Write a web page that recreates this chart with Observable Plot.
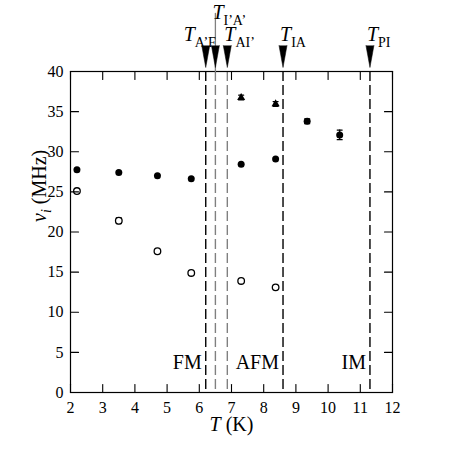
<!DOCTYPE html>
<html><head><meta charset="utf-8">
<script src="https://cdn.jsdelivr.net/npm/d3@7"></script>
<script src="https://cdn.jsdelivr.net/npm/@observablehq/plot@0.6"></script>
<style>body{margin:0;background:#fff} svg{display:block} svg text{font-family:'Liberation Serif','Times New Roman',serif;font-variant:normal}</style>
</head><body><div id="chart"></div>
<script>
const xDomain = [2, 12];
const yDomain = [0, 40];
const xTicks = [2, 3, 4, 5, 6, 7, 8, 9, 10, 11, 12];
const yTicks = [0, 5, 10, 15, 20, 25, 30, 35, 40];

const filledT = [2.2, 3.5, 4.7, 5.75, 7.3, 8.37, 9.35, 10.36];
const filledNu = [27.75, 27.4, 27.0, 26.65, 28.45, 29.1, 33.8, 32.1];
const filledErr = [0, 0, 0, 0, 0, 0, 0.3, 0.6];
const openT = [2.2, 3.5, 4.7, 5.75, 7.3, 8.37];
const openNu = [25.1, 21.4, 17.6, 14.9, 13.9, 13.1];
const openErr = [0, 0.35, 0, 0, 0, 0];
const triT = [7.3, 8.37];
const triNu = [36.75, 35.95];
const triErr = [0.3, 0.3];

const transitionNames = ["A’F", "I’A’", "AI’", "IA", "PI"];
const transitionT = [6.2, 6.5, 6.87, 8.6, 11.3];
const phaseNames = ["FM", "AFM", "IM"];
const phaseUpperT = [6.2, 8.6, 11.3];

const toRows = (T, V, E) => T.map((t, i) => ({T: t, nu: V[i], err: E[i]}));
const filled = toRows(filledT, filledNu, filledErr);
const open = toRows(openT, openNu, openErr);
const tri = toRows(triT, triNu, triErr);
const errRows = [...filled, ...open, ...tri].filter(d => d.err > 0);
const transitions = transitionNames.map((n, i) => ({name: n, T: transitionT[i]}));
const phases = phaseNames.map((n, i) => ({name: n, T: phaseUpperT[i]}));
const grayNames = new Set(["I’A’", "AI’"]);

const serif = "'Liberation Serif', 'Times New Roman', serif";
const lineShape = {draw(ctx, l) { ctx.moveTo(0, 0); ctx.lineTo(0, -l); }};
const capShape = {draw(ctx, l) { ctx.moveTo(-l / 2, 0); ctx.lineTo(l / 2, 0); }};
const tickOpts = {length: 8, shape: lineShape, anchor: "start", stroke: "black", strokeWidth: 1.1};

const chart = Plot.plot({
  width: 463, height: 463,
  marginLeft: 70, marginRight: 71, marginTop: 71, marginBottom: 71,
  x: {domain: xDomain, label: null},
  y: {domain: yDomain, label: null},
  style: {fontFamily: serif, fontSize: "16px", background: "white", color: "black"},
  marks: [
    Plot.ruleX(transitions, {x: "T", stroke: d => grayNames.has(d.name) ? "#808080" : "black", strokeWidth: 1.4, strokeDasharray: "10,4"}),
    Plot.ruleX(errRows, {x: "T", y1: d => d.nu - d.err, y2: d => d.nu + d.err, stroke: "black", strokeWidth: 1.2}),
    Plot.vector(errRows, {x: "T", y: d => d.nu + d.err, length: 5, shape: capShape, anchor: "start", stroke: "black", strokeWidth: 1.2}),
    Plot.vector(errRows, {x: "T", y: d => d.nu - d.err, length: 5, shape: capShape, anchor: "start", stroke: "black", strokeWidth: 1.2}),
    Plot.dot(filled, {x: "T", y: "nu", r: 3.5, fill: "black"}),
    Plot.dot(open, {x: "T", y: "nu", r: 3.3, fill: "white", stroke: "black", strokeWidth: 1.3}),
    Plot.dot(tri, {x: "T", y: "nu", r: 3, symbol: "triangle", fill: "black"}),
    // inward ticks on all four sides
    Plot.vector(xTicks, {x: d => d, y: () => yDomain[0], rotate: 0, ...tickOpts}),
    Plot.vector(xTicks, {x: d => d, y: () => yDomain[1], rotate: 180, ...tickOpts}),
    Plot.vector(yTicks, {x: () => xDomain[0], y: d => d, rotate: 90, ...tickOpts}),
    Plot.vector(yTicks, {x: () => xDomain[1], y: d => d, rotate: -90, ...tickOpts}),
    Plot.axisX(xTicks, {anchor: "bottom", tickSize: 0, tickPadding: 9, fontSize: 16, fontFamily: serif, fontVariant: "normal", label: null}),
    Plot.axisY(yTicks, {anchor: "left", tickSize: 0, tickPadding: 7, fontSize: 16, fontFamily: serif, fontVariant: "normal", label: null}),
    Plot.frame({stroke: "black", strokeWidth: 1.2}),
    // transition arrows
    Plot.vector(transitions.filter(d => d.name === "I’A’"), {x: "T", y: () => yDomain[1], rotate: 180, length: 58, anchor: "end", shape: lineShape, stroke: "#808080", strokeWidth: 1.3}),
    Plot.vector(transitions, {x: "T", y: () => yDomain[1], rotate: 180, length: 22, anchor: "end", shape: "spike", r: 4, fill: "black", stroke: "black", strokeWidth: 0.5, dy: -4}),
    Plot.text(transitions.filter(d => !["A’F", "I’A’"].includes(d.name)), {x: "T", frameAnchor: "top", text: d => "T_" + d.name, textAnchor: "start", lineAnchor: "bottom", dx: -3, dy: -31, fontSize: 20}),
    Plot.text(transitions.filter(d => d.name === "A’F"), {x: "T", frameAnchor: "top", text: d => "T_" + d.name, textAnchor: "start", lineAnchor: "bottom", dx: -22, dy: -31, fontSize: 20}),
    Plot.text(transitions.filter(d => d.name === "I’A’"), {x: "T", frameAnchor: "top", text: d => "T_" + d.name, textAnchor: "start", lineAnchor: "bottom", dx: -3, dy: -53, fontSize: 20}),
    // phase labels
    Plot.text(phases, {x: "T", frameAnchor: "bottom", text: "name", textAnchor: "end", lineAnchor: "bottom", dx: -4, dy: -23.5, fontSize: 20}),
    // axis titles
    Plot.text(["T (K)"], {text: d => d, frameAnchor: "bottom", lineAnchor: "bottom", dy: 38, fontSize: 20}),
    Plot.text(["ν_i (MHz)"], {text: d => d, frameAnchor: "left", rotate: -90, lineAnchor: "bottom", dx: -25, dy: -10, fontSize: 20})
  ]
});

const svgNS = "http://www.w3.org/2000/svg";
function ts(txt, attrs) {
  const t = document.createElementNS(svgNS, "tspan");
  t.textContent = txt;
  for (const k in attrs) t.setAttribute(k, attrs[k]);
  return t;
}
chart.querySelectorAll("text").forEach(el => {
  const s = el.textContent;
  if (s.startsWith("T_")) {
    el.textContent = "";
    el.append(ts("T", {"font-style": "italic"}), ts(s.slice(2), {"font-size": 14, dy: 6}));
  } else if (s === "ν_i (MHz)") {
    el.textContent = "";
    el.append(ts("ν", {"font-style": "italic"}), ts("i", {"font-style": "italic", "font-size": 14, dy: 5}), ts(" (MHz)", {dy: -5}));
  } else if (s === "T (K)") {
    el.textContent = "";
    el.append(ts("T", {"font-style": "italic"}), ts(" (K)", {}));
  }
});
document.getElementById("chart").append(chart);
</script>
</body></html>
